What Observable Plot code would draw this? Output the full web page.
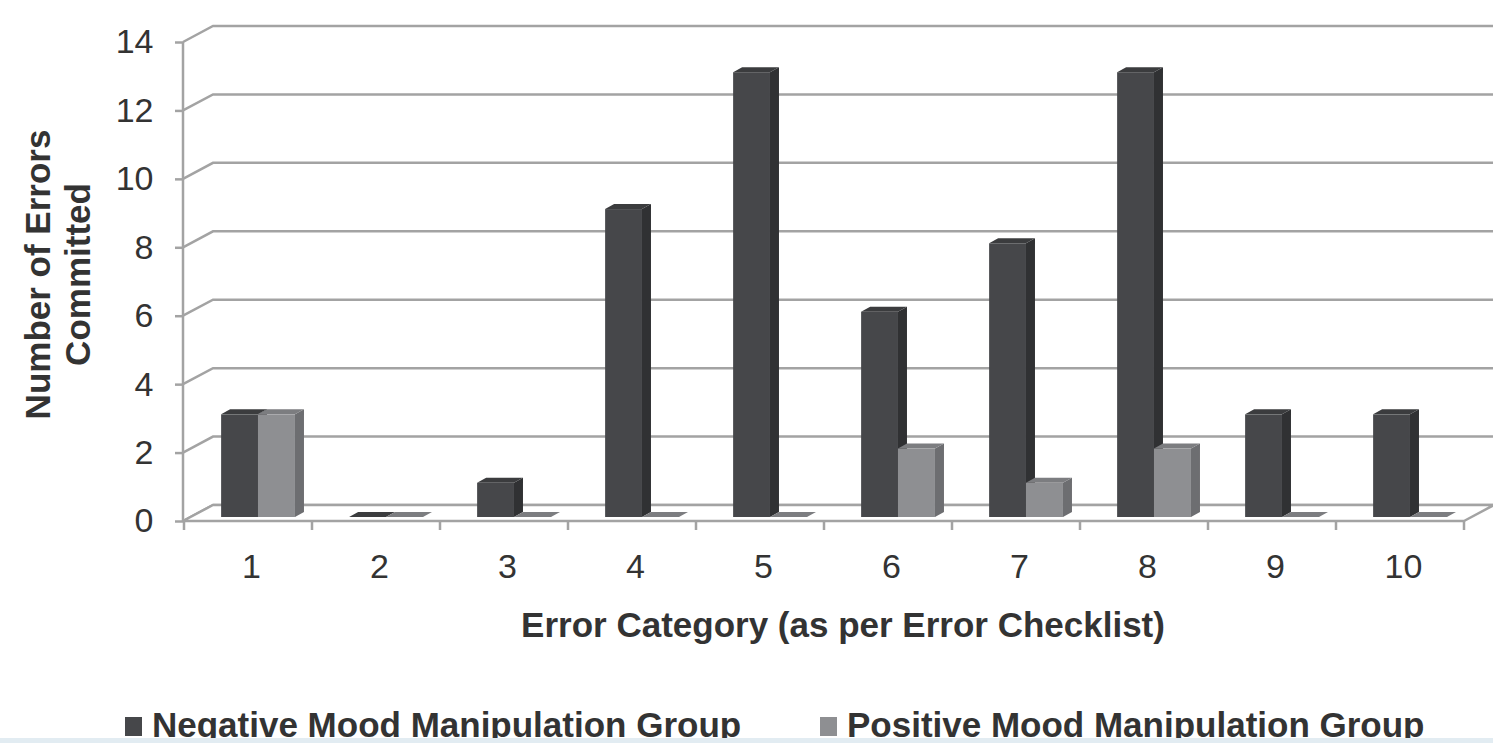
<!DOCTYPE html>
<html>
<head>
<meta charset="utf-8">
<script src="https://cdn.jsdelivr.net/npm/d3@7"></script>
<script src="https://cdn.jsdelivr.net/npm/@observablehq/plot@0.6"></script>
<style>
  html, body { margin: 0; padding: 0; background: #fff; }
  body { width: 1493px; height: 743px; overflow: hidden; position: relative; font-family: "Liberation Sans", Arial, Helvetica, sans-serif; }
  #chart svg { display: block; }
  #legend { position: relative; width: 1493px; height: 53px; color: #333; }
  #legend .item { position: absolute; top: 17px; font-size: 35px; font-weight: bold; line-height: 35px; white-space: nowrap; }
  #legend .sw { display: inline-block; width: 17px; height: 19px; margin-right: 10px; vertical-align: 1px; }
  #strip { position: absolute; left: 0; right: 0; bottom: 0; height: 5px; background: #e2ecf2; }
</style>
</head>
<body>
<div id="chart"></div>
<div id="legend"></div>
<div id="strip"></div>
<script>
// ---- data ----
const categories = ["1", "2", "3", "4", "5", "6", "7", "8", "9", "10"];
const negativeErrors = [3, 0, 1, 9, 13, 6, 8, 13, 3, 3];
const positiveErrors = [3, 0, 0, 0, 0, 2, 1, 2, 0, 0];
const yTicks = [0, 2, 4, 6, 8, 10, 12, 14];
const seriesNames = ["Negative Mood Manipulation Group", "Positive Mood Manipulation Group"];
const xTitle = "Error Category (as per Error Checklist)";
const yTitleLines = ["Number of Errors", "Committed"];

// ---- styles ----
const gridColor = "#a3a3a3";
const faces = [
  {front: "#46474a", side: "#303133", top: "#3b3c3e"},
  {front: "#8e8f92", side: "#6d6e71", top: "#7c7d80"}
];
const depth = {dx: 30, dy: -16};      // wall depth
const barDepth = {dx: 9, dy: -5};     // bar depth
const barLift = -4;                   // bar front plane above front axis
const barSlots = [[0.29, 0.578], [0.578, 0.867]];

const rows = categories.map((c, i) => ({category: c, values: [negativeErrors[i], positiveErrors[i]]}));

function chart3d(index, scales, values, dimensions) {
  const {x, y} = scales;
  const bw = x.bandwidth();
  const {width, marginLeft, marginRight} = dimensions;
  const left = marginLeft, right = width - marginRight;
  const y0 = y(0);
  const g = d3.create("svg:g");

  // back wall gridlines
  for (const t of yTicks) {
    const yy = y(t);
    g.append("path")
      .attr("d", `M${left},${yy}L${left + depth.dx},${yy + depth.dy}L${right + depth.dx},${yy + depth.dy}`)
      .attr("fill", "none").attr("stroke", gridColor).attr("stroke-width", 2.5);
  }
  // floor
  g.append("path")
    .attr("d", `M${left},${y0}L${right},${y0}L${right + depth.dx},${y0 + depth.dy}L${left + depth.dx},${y0 + depth.dy}Z`)
    .attr("fill", "#fff").attr("stroke", gridColor).attr("stroke-width", 2.5).attr("stroke-linejoin", "round");
  // front vertical axis line
  g.append("line").attr("x1", left).attr("x2", left).attr("y1", y(yTicks[yTicks.length - 1])).attr("y2", y0)
    .attr("stroke", gridColor).attr("stroke-width", 2.5);
  // category boundary ticks
  const bounds = categories.map(c => x(c)).concat([x(categories[categories.length - 1]) + bw]);
  for (const bx of bounds) {
    g.append("line").attr("x1", bx).attr("x2", bx).attr("y1", y0).attr("y2", y0 + 9)
      .attr("stroke", gridColor).attr("stroke-width", 2.5);
  }

  // bars
  for (const r of rows) {
    const xb = x(r.category);
    r.values.forEach((v, s) => {
      const x0 = xb + barSlots[s][0] * bw, x1 = xb + barSlots[s][1] * bw;
      const yb = y(0) + barLift, yt = y(v) + barLift;
      const {dx, dy} = barDepth;
      const f = faces[s];
      g.append("path").attr("d", `M${x1},${yt}L${x1 + dx},${yt + dy}L${x1 + dx},${yb + dy}L${x1},${yb}Z`).attr("fill", f.side);
      g.append("path").attr("d", `M${x0},${yt}L${x1},${yt}L${x1 + dx},${yt + dy}L${x0 + dx},${yt + dy}Z`).attr("fill", f.top);
      g.append("rect").attr("x", x0).attr("y", yt).attr("width", x1 - x0).attr("height", Math.max(0, yb - yt)).attr("fill", f.front);
    });
  }

  // y axis title (two rotated lines)
  const titleBaselines = [50, 90];
  const titleCenter = (y(0) + y(14)) / 2 - 7;
  yTitleLines.forEach((line, i) => {
    g.append("text")
      .attr("transform", `translate(${titleBaselines[i]},${titleCenter}) rotate(-90)`)
      .attr("text-anchor", "middle")
      .attr("font-size", 35).attr("font-weight", "bold").attr("fill", "#333")
      .text(line);
  });
  return g.node();
}

const plot = Plot.plot({
  width: 1493,
  height: 690,
  marginLeft: 183,
  marginRight: 29,
  marginTop: 42,
  marginBottom: 169,
  style: {fontFamily: "'Liberation Sans', Arial, Helvetica, sans-serif", color: "#333", background: "#fff"},
  x: {type: "band", domain: categories, padding: 0},
  y: {domain: [0, 14]},
  marks: [
    chart3d,
    Plot.axisY({ticks: yTicks, tickSize: 8, tickPadding: 22, fontSize: 34, stroke: gridColor, strokeWidth: 2.5, fill: "#333", label: null}),
    Plot.axisX({tickSize: 0, tickPadding: 32, fontSize: 34, fill: "#333", dx: 3, label: null}),
    Plot.text([xTitle], {frameAnchor: "bottom", lineAnchor: "middle", dx: 19, dy: 104, fontSize: 35, fontWeight: "bold", fill: "#333"})
  ]
});
document.getElementById("chart").appendChild(plot);

// legend
const legend = document.getElementById("legend");
const legendLefts = [125, 820];
seriesNames.forEach((name, i) => {
  const item = document.createElement("div");
  item.className = "item";
  item.style.left = legendLefts[i] + "px";
  const sw = document.createElement("span");
  sw.className = "sw";
  sw.style.background = faces[i].front;
  item.appendChild(sw);
  item.appendChild(document.createTextNode(name));
  legend.appendChild(item);
});
</script>
</body>
</html>
